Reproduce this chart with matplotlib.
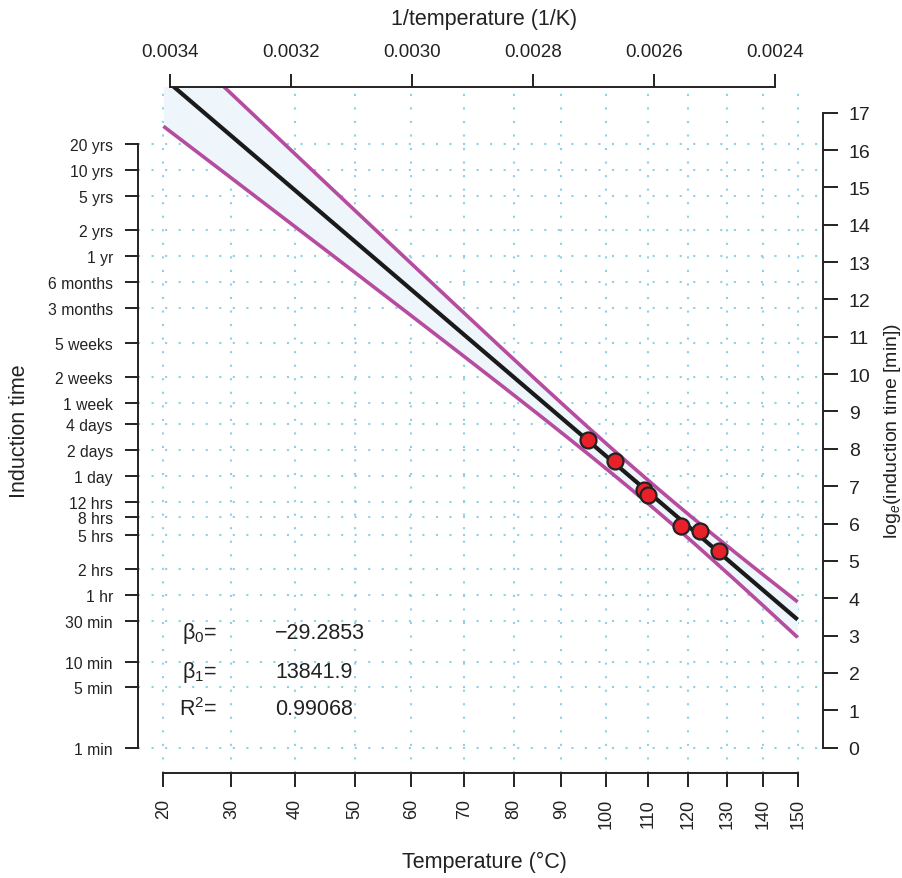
import numpy as np
import matplotlib
matplotlib.use("Agg")
import matplotlib.pyplot as plt

plt.rcParams['font.family'] = ['Liberation Sans', 'DejaVu Sans']
plt.rcParams['mathtext.fontset'] = 'custom'
plt.rcParams['mathtext.rm'] = 'Liberation Sans'
plt.rcParams['mathtext.it'] = 'Liberation Sans:italic'

# Measured induction times (temperature in degC, natural log of minutes)
temp_c = [96, 102, 109, 110, 118, 123, 128]
ln_time = [8.24, 7.67, 6.90, 6.76, 5.93, 5.79, 5.26]

# Arrhenius fit: ln(t) = b0 + b1 / T
b0 = -29.2853
b1 = 13841.9
r2 = 0.99068

# Axis ticks
temp_ticks = [20, 30, 40, 50, 60, 70, 80, 90, 100, 110, 120, 130, 140, 150]
inv_ticks = [0.0034, 0.0032, 0.0030, 0.0028, 0.0026, 0.0024]
inv_tick_labels = ["0.0034", "0.0032", "0.0030", "0.0028", "0.0026", "0.0024"]
ln_ticks = list(range(0, 18))
time_labels = ["1 min", "5 min", "10 min", "30 min", "1 hr", "2 hrs", "5 hrs",
               "8 hrs", "12 hrs", "1 day", "2 days", "4 days", "1 week",
               "2 weeks", "5 weeks", "3 months", "6 months", "1 yr", "2 yrs",
               "5 yrs", "10 yrs", "20 yrs"]
time_minutes = [1, 5, 10, 30, 60, 120, 300, 480, 720, 1440, 2880, 5760, 10080,
                20160, 50400, 129600, 259200, 525600, 1051200, 2628000,
                5256000, 10512000]

K0 = 273.15
x_pts = 1.0 / (np.array(temp_c) + K0)
y_pts = np.array(ln_time)
n = len(x_pts)

# 95% prediction band around the fitted line
t_crit = 2.570582  # t(0.975, df = n - 2 = 5)
xbar = x_pts.mean()
sxx = np.sum((x_pts - xbar) ** 2)
sse = b1 ** 2 * sxx * (1 - r2) / r2
s = np.sqrt(sse / (n - 2))

x_lo = 1.0 / (temp_ticks[0] + K0)
x_hi = 1.0 / (temp_ticks[-1] + K0)
xg = np.linspace(x_hi, x_lo, 300)
fit = b0 + b1 * xg
half = t_crit * s * np.sqrt(1 + 1 / n + (xg - xbar) ** 2 / sxx)

W, H = 903, 879
fig = plt.figure(figsize=(W / 100, H / 100), dpi=100)
L, R, T, B = 138, 823, 88.3, 774
ax = fig.add_axes([L / W, 1 - B / H, (R - L) / W, (B - T) / H])

xr = x_lo - x_hi
xlim = (x_lo + 0.04 * xr, x_hi - 0.04 * xr)
ylim = (-0.04 * 17, 17 + 0.04 * 17)
ax.set_xlim(xlim)
ax.set_ylim(ylim)

ink = '#222222'
grid_c = '#8fd0e6'
dot = (0, (1, 5.5))

# grid: verticals at temperature ticks, horizontals at time ticks
for tc in temp_ticks:
    ax.axvline(1.0 / (tc + K0), color=grid_c, lw=1.5, ls=dot, zorder=0)
for m in time_minutes:
    ax.axhline(np.log(m), color=grid_c, lw=1.5, ls=dot, zorder=0)

ax.fill_between(xg, fit - half, fit + half, color='#eef6fb', lw=0, zorder=1)
ax.plot(xg, fit + half, color='#b64c9f', lw=2.6, zorder=2, solid_capstyle='butt')
ax.plot(xg, fit - half, color='#b64c9f', lw=2.6, zorder=2, solid_capstyle='butt')
ax.plot(xg, fit, color='#1a1a1a', lw=3.0, zorder=3, solid_capstyle='butt')
ax.plot(x_pts, y_pts, 'o', ms=11.5, mfc='#e8202a', mec='#222222', mew=1.6,
        zorder=4)

# left axis: induction time labels
for sp in ['top', 'right']:
    ax.spines[sp].set_visible(False)
ax.spines['left'].set_bounds(0, np.log(time_minutes[-1]))
ax.spines['bottom'].set_bounds(x_hi, x_lo)
for sp in ['left', 'bottom']:
    ax.spines[sp].set_color(ink)
    ax.spines[sp].set_linewidth(1.4)
ax.set_yticks([np.log(m) for m in time_minutes])
ax.set_yticklabels(time_labels, fontsize=11.3)
ax.set_xticks([1.0 / (tc + K0) for tc in temp_ticks])
ax.set_xticklabels([str(tc) for tc in temp_ticks], rotation=90, fontsize=13)
ax.tick_params(axis='y', length=9.5, width=1.4, color=ink, pad=8.5,
               labelcolor=ink)
ax.tick_params(axis='x', length=10, width=1.4, color=ink, pad=8,
               labelcolor=ink)

# right axis: natural log of minutes
axr = ax.twinx()
axr.set_ylim(ylim)
for sp in ['top', 'left', 'bottom']:
    axr.spines[sp].set_visible(False)
axr.spines['right'].set_bounds(0, 17)
axr.spines['right'].set_color(ink)
axr.spines['right'].set_linewidth(1.4)
axr.set_yticks(ln_ticks)
axr.set_yticklabels([str(v) for v in ln_ticks], fontsize=14)
axr.tick_params(axis='y', length=10.5, width=1.4, color=ink, pad=8,
                labelcolor=ink)

# top axis: reciprocal absolute temperature
axt = ax.twiny()
axt.set_xlim(xlim)
for sp in ['right', 'left', 'bottom']:
    axt.spines[sp].set_visible(False)
axt.spines['top'].set_bounds(inv_ticks[-1], inv_ticks[0])
axt.spines['top'].set_color(ink)
axt.spines['top'].set_linewidth(1.4)
axt.set_xticks(inv_ticks)
axt.set_xticklabels(inv_tick_labels, fontsize=13.5)
axt.tick_params(axis='x', length=9.5, width=1.4, color=ink, pad=10,
                labelcolor=ink)

# axis titles
fig.text(484 / W, 1 - 20 / H, '1/temperature (1/K)', ha='center', va='center',
         fontsize=15.5, color=ink)
fig.text(484 / W, 1 - 862 / H, 'Temperature (°C)', ha='center', va='center',
         fontsize=15.5, color=ink)
fig.text(20 / W, 1 - 431 / H, 'Induction time', ha='center', va='center',
         rotation=90, fontsize=15.5, color=ink)
fig.text(893 / W, 1 - 431 / H, 'log$_e$(induction time [min])', ha='center',
         va='center', rotation=90, fontsize=14, color=ink)

# fitted coefficients
coef_names = ['β$_0$=', 'β$_1$=', 'R$^2$=']
coef_vals = [f"{b0:.4f}".replace('-', '\u2212'), f"{b1:.1f}", f"{r2:.5f}"]
coef_y = [634, 673, 710]
for name, val, yy in zip(coef_names, coef_vals, coef_y):
    fig.text(217 / W, 1 - yy / H, name, ha='right', va='center',
             fontsize=15.5, color=ink)
    fig.text(275 / W, 1 - yy / H, val, ha='left', va='center',
             fontsize=15.5, color=ink)

fig.savefig('out.png', dpi=100)
